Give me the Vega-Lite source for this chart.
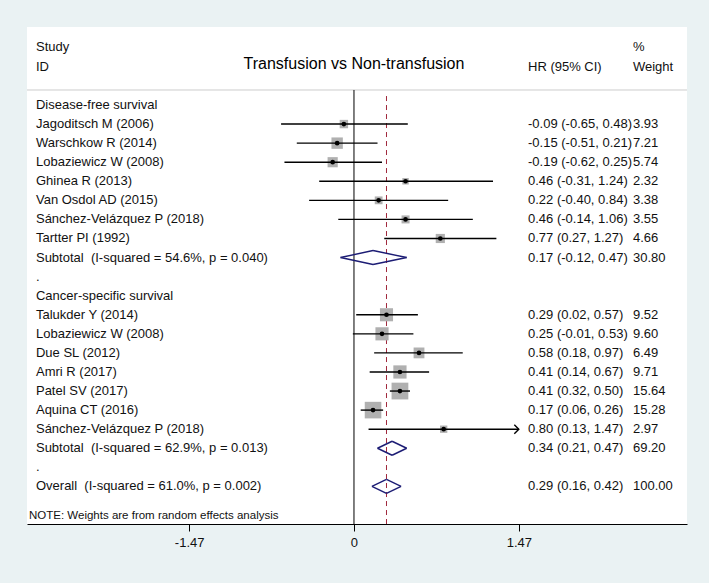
{
  "$schema": "https://vega.github.io/schema/vega-lite/v6.json",
  "width": 660,
  "height": 497,
  "autosize": {"type": "none"},
  "padding": {"left": 27, "top": 27, "right": 22, "bottom": 59},
  "background": "#eaf2f3",
  "config": {
    "view": {"fill": "#ffffff", "stroke": null},
    "text": {"font": "Liberation Sans", "fontSize": 13, "color": "#111111", "baseline": "middle", "align": "left"},
    "axisX": {"grid": false, "domainColor": "#000000", "domainWidth": 1, "tickColor": "#000000", "tickSize": 7, "tickWidth": 1, "labelFont": "Liberation Sans", "labelFontSize": 13, "labelColor": "#111111", "labelPadding": 5, "labelFlush": false, "labelOverlap": false}
  },
  "datasets": {
    "rows": [
      {"row": 0, "type": "group", "label": "Disease-free survival"},
      {"row": 1, "type": "study", "label": "Jagoditsch M (2006)", "est": -0.09, "lower": -0.65, "upper": 0.48, "weight": 3.93, "hr": "-0.09 (-0.65, 0.48)"},
      {"row": 2, "type": "study", "label": "Warschkow R (2014)", "est": -0.15, "lower": -0.51, "upper": 0.21, "weight": 7.21, "hr": "-0.15 (-0.51, 0.21)"},
      {"row": 3, "type": "study", "label": "Lobaziewicz W (2008)", "est": -0.19, "lower": -0.62, "upper": 0.25, "weight": 5.74, "hr": "-0.19 (-0.62, 0.25)"},
      {"row": 4, "type": "study", "label": "Ghinea R (2013)", "est": 0.46, "lower": -0.31, "upper": 1.24, "weight": 2.32, "hr": "0.46 (-0.31, 1.24)"},
      {"row": 5, "type": "study", "label": "Van Osdol AD (2015)", "est": 0.22, "lower": -0.40, "upper": 0.84, "weight": 3.38, "hr": "0.22 (-0.40, 0.84)"},
      {"row": 6, "type": "study", "label": "Sánchez-Velázquez P (2018)", "est": 0.46, "lower": -0.14, "upper": 1.06, "weight": 3.55, "hr": "0.46 (-0.14, 1.06)"},
      {"row": 7, "type": "study", "label": "Tartter PI (1992)", "est": 0.77, "lower": 0.27, "upper": 1.27, "weight": 4.66, "hr": "0.77 (0.27, 1.27)"},
      {"row": 8, "type": "subtotal", "label": "Subtotal\u00a0 (I-squared = 54.6%, p = 0.040)", "est": 0.17, "lower": -0.12, "upper": 0.47, "weight": 30.80, "hr": "0.17 (-0.12, 0.47)"},
      {"row": 9, "type": "blank", "label": "."},
      {"row": 10, "type": "group", "label": "Cancer-specific survival"},
      {"row": 11, "type": "study", "label": "Talukder Y (2014)", "est": 0.29, "lower": 0.02, "upper": 0.57, "weight": 9.52, "hr": "0.29 (0.02, 0.57)"},
      {"row": 12, "type": "study", "label": "Lobaziewicz W (2008)", "est": 0.25, "lower": -0.01, "upper": 0.53, "weight": 9.60, "hr": "0.25 (-0.01, 0.53)"},
      {"row": 13, "type": "study", "label": "Due SL (2012)", "est": 0.58, "lower": 0.18, "upper": 0.97, "weight": 6.49, "hr": "0.58 (0.18, 0.97)"},
      {"row": 14, "type": "study", "label": "Amri R (2017)", "est": 0.41, "lower": 0.14, "upper": 0.67, "weight": 9.71, "hr": "0.41 (0.14, 0.67)"},
      {"row": 15, "type": "study", "label": "Patel SV (2017)", "est": 0.41, "lower": 0.32, "upper": 0.50, "weight": 15.64, "hr": "0.41 (0.32, 0.50)"},
      {"row": 16, "type": "study", "label": "Aquina CT (2016)", "est": 0.17, "lower": 0.06, "upper": 0.26, "weight": 15.28, "hr": "0.17 (0.06, 0.26)"},
      {"row": 17, "type": "study", "label": "Sánchez-Velázquez P (2018)", "est": 0.80, "lower": 0.13, "upper": 1.47, "weight": 2.97, "hr": "0.80 (0.13, 1.47)"},
      {"row": 18, "type": "subtotal", "label": "Subtotal\u00a0 (I-squared = 62.9%, p = 0.013)", "est": 0.34, "lower": 0.21, "upper": 0.47, "weight": 69.20, "hr": "0.34 (0.21, 0.47)"},
      {"row": 19, "type": "blank", "label": "."},
      {"row": 20, "type": "overall", "label": "Overall\u00a0 (I-squared = 61.0%, p = 0.002)", "est": 0.29, "lower": 0.16, "upper": 0.42, "weight": 100.00, "hr": "0.29 (0.16, 0.42)"}
    ]
  },
  "layer": [
    {
      "data": {"values": [{}]},
      "mark": {"type": "rule", "color": "#cccccc", "strokeWidth": 1},
      "encoding": {
        "y": {"datum": -0.787, "type": "quantitative", "scale": {"domain": [-4.09, 21.972], "reverse": true, "nice": false, "zero": false}, "axis": null}
      }
    },
    {
      "data": {"values": [{}]},
      "mark": {"type": "rule", "color": "#000000", "strokeWidth": 1},
      "encoding": {
        "x": {"datum": 0, "type": "quantitative", "scale": {"domain": [-2.916, 2.97], "nice": false, "zero": false}, "axis": {"values": [-1.47, 0, 1.47], "labelExpr": "'' + datum.value", "title": null}},
        "y": {"datum": -0.787, "type": "quantitative", "scale": {"domain": [-4.09, 21.972], "reverse": true, "nice": false, "zero": false}, "axis": null},
        "y2": {"datum": 21.972}
      }
    },
    {
      "data": {"name": "rows"},
      "transform": [{"filter": "datum.type == 'overall'"}],
      "mark": {"type": "rule", "color": "#a0283c", "strokeWidth": 1, "strokeDash": [5, 4]},
      "encoding": {
        "x": {"field": "est", "type": "quantitative", "scale": {"domain": [-2.916, 2.97], "nice": false, "zero": false}, "axis": {"values": [-1.47, 0, 1.47], "labelExpr": "'' + datum.value", "title": null}},
        "y": {"datum": -0.47, "type": "quantitative", "scale": {"domain": [-4.09, 21.972], "reverse": true, "nice": false, "zero": false}, "axis": null},
        "y2": {"datum": 21.972}
      }
    },
    {
      "data": {"name": "rows"},
      "transform": [{"filter": "datum.type == 'study'"}],
      "mark": {"type": "point", "shape": "square", "filled": true, "color": "#b0b0b0", "opacity": 1},
      "encoding": {
        "x": {"field": "est", "type": "quantitative", "scale": {"domain": [-2.916, 2.97], "nice": false, "zero": false}, "axis": {"values": [-1.47, 0, 1.47], "labelExpr": "'' + datum.value", "title": null}},
        "y": {"field": "row", "type": "quantitative", "scale": {"domain": [-4.09, 21.972], "reverse": true, "nice": false, "zero": false}, "axis": null},
        "size": {"field": "weight", "type": "quantitative", "scale": {"type": "linear", "domain": [0, 20], "range": [0, 360]}, "legend": null}
      }
    },
    {
      "data": {"name": "rows"},
      "transform": [{"filter": "datum.type == 'study'"}],
      "mark": {"type": "rule", "color": "#000000", "strokeWidth": 1.4},
      "encoding": {
        "x": {"field": "lower", "type": "quantitative", "scale": {"domain": [-2.916, 2.97], "nice": false, "zero": false}, "axis": {"values": [-1.47, 0, 1.47], "labelExpr": "'' + datum.value", "title": null}},
        "x2": {"field": "upper"},
        "y": {"field": "row", "type": "quantitative", "scale": {"domain": [-4.09, 21.972], "reverse": true, "nice": false, "zero": false}, "axis": null}
      }
    },
    {
      "data": {"name": "rows"},
      "transform": [{"filter": "datum.type == 'study' && datum.upper >= 1.47"}],
      "mark": {"type": "point", "shape": "M-1,-1L0,0L-1,1", "filled": false, "stroke": "#000000", "strokeWidth": 1.4, "size": 81, "opacity": 1},
      "encoding": {
        "x": {"field": "upper", "type": "quantitative", "scale": {"domain": [-2.916, 2.97], "nice": false, "zero": false}, "axis": {"values": [-1.47, 0, 1.47], "labelExpr": "'' + datum.value", "title": null}},
        "y": {"field": "row", "type": "quantitative", "scale": {"domain": [-4.09, 21.972], "reverse": true, "nice": false, "zero": false}, "axis": null}
      }
    },
    {
      "data": {"name": "rows"},
      "transform": [{"filter": "datum.type == 'study'"}],
      "mark": {"type": "point", "shape": "circle", "filled": true, "color": "#000000", "size": 22, "opacity": 1},
      "encoding": {
        "x": {"field": "est", "type": "quantitative", "scale": {"domain": [-2.916, 2.97], "nice": false, "zero": false}, "axis": {"values": [-1.47, 0, 1.47], "labelExpr": "'' + datum.value", "title": null}},
        "y": {"field": "row", "type": "quantitative", "scale": {"domain": [-4.09, 21.972], "reverse": true, "nice": false, "zero": false}, "axis": null}
      }
    },
    {
      "data": {"name": "rows"},
      "transform": [{"filter": "datum.type == 'subtotal' || datum.type == 'overall'"}],
      "mark": {"type": "rule", "color": "#1c1c74", "strokeWidth": 1.4, "y2Offset": -7},
      "encoding": {
        "x": {"field": "lower", "type": "quantitative", "scale": {"domain": [-2.916, 2.97], "nice": false, "zero": false}, "axis": {"values": [-1.47, 0, 1.47], "labelExpr": "'' + datum.value", "title": null}},
        "x2": {"field": "est"},
        "y": {"field": "row", "type": "quantitative", "scale": {"domain": [-4.09, 21.972], "reverse": true, "nice": false, "zero": false}, "axis": null},
        "y2": {"field": "row"}
      }
    },
    {
      "data": {"name": "rows"},
      "transform": [{"filter": "datum.type == 'subtotal' || datum.type == 'overall'"}],
      "mark": {"type": "rule", "color": "#1c1c74", "strokeWidth": 1.4, "y2Offset": 7},
      "encoding": {
        "x": {"field": "lower", "type": "quantitative", "scale": {"domain": [-2.916, 2.97], "nice": false, "zero": false}, "axis": {"values": [-1.47, 0, 1.47], "labelExpr": "'' + datum.value", "title": null}},
        "x2": {"field": "est"},
        "y": {"field": "row", "type": "quantitative", "scale": {"domain": [-4.09, 21.972], "reverse": true, "nice": false, "zero": false}, "axis": null},
        "y2": {"field": "row"}
      }
    },
    {
      "data": {"name": "rows"},
      "transform": [{"filter": "datum.type == 'subtotal' || datum.type == 'overall'"}],
      "mark": {"type": "rule", "color": "#1c1c74", "strokeWidth": 1.4, "yOffset": -7},
      "encoding": {
        "x": {"field": "est", "type": "quantitative", "scale": {"domain": [-2.916, 2.97], "nice": false, "zero": false}, "axis": {"values": [-1.47, 0, 1.47], "labelExpr": "'' + datum.value", "title": null}},
        "x2": {"field": "upper"},
        "y": {"field": "row", "type": "quantitative", "scale": {"domain": [-4.09, 21.972], "reverse": true, "nice": false, "zero": false}, "axis": null},
        "y2": {"field": "row"}
      }
    },
    {
      "data": {"name": "rows"},
      "transform": [{"filter": "datum.type == 'subtotal' || datum.type == 'overall'"}],
      "mark": {"type": "rule", "color": "#1c1c74", "strokeWidth": 1.4, "yOffset": 7},
      "encoding": {
        "x": {"field": "est", "type": "quantitative", "scale": {"domain": [-2.916, 2.97], "nice": false, "zero": false}, "axis": {"values": [-1.47, 0, 1.47], "labelExpr": "'' + datum.value", "title": null}},
        "x2": {"field": "upper"},
        "y": {"field": "row", "type": "quantitative", "scale": {"domain": [-4.09, 21.972], "reverse": true, "nice": false, "zero": false}, "axis": null},
        "y2": {"field": "row"}
      }
    },
    {
      "data": {"name": "rows"},
      "mark": {"type": "text"},
      "encoding": {
        "x": {"datum": -2.836, "type": "quantitative", "scale": {"domain": [-2.916, 2.97], "nice": false, "zero": false}, "axis": {"values": [-1.47, 0, 1.47], "labelExpr": "'' + datum.value", "title": null}},
        "y": {"field": "row", "type": "quantitative", "scale": {"domain": [-4.09, 21.972], "reverse": true, "nice": false, "zero": false}, "axis": null},
        "text": {"field": "label"}
      }
    },
    {
      "data": {"name": "rows"},
      "transform": [{"filter": "isValid(datum.hr)"}],
      "mark": {"type": "text"},
      "encoding": {
        "x": {"datum": 1.552, "type": "quantitative", "scale": {"domain": [-2.916, 2.97], "nice": false, "zero": false}, "axis": {"values": [-1.47, 0, 1.47], "labelExpr": "'' + datum.value", "title": null}},
        "y": {"field": "row", "type": "quantitative", "scale": {"domain": [-4.09, 21.972], "reverse": true, "nice": false, "zero": false}, "axis": null},
        "text": {"field": "hr"}
      }
    },
    {
      "data": {"name": "rows"},
      "transform": [{"filter": "isValid(datum.weight)"}],
      "mark": {"type": "text"},
      "encoding": {
        "x": {"datum": 2.488, "type": "quantitative", "scale": {"domain": [-2.916, 2.97], "nice": false, "zero": false}, "axis": {"values": [-1.47, 0, 1.47], "labelExpr": "'' + datum.value", "title": null}},
        "y": {"field": "row", "type": "quantitative", "scale": {"domain": [-4.09, 21.972], "reverse": true, "nice": false, "zero": false}, "axis": null},
        "text": {"field": "weight", "type": "quantitative", "format": ".2f"}
      }
    },
    {
      "data": {"values": [{}]},
      "mark": {"type": "text", "text": "Study"},
      "encoding": {
        "x": {"datum": -2.836, "type": "quantitative", "scale": {"domain": [-2.916, 2.97], "nice": false, "zero": false}, "axis": {"values": [-1.47, 0, 1.47], "labelExpr": "'' + datum.value", "title": null}},
        "y": {"datum": -3.06, "type": "quantitative", "scale": {"domain": [-4.09, 21.972], "reverse": true, "nice": false, "zero": false}, "axis": null}
      }
    },
    {
      "data": {"values": [{}]},
      "mark": {"type": "text", "text": "ID"},
      "encoding": {
        "x": {"datum": -2.836, "type": "quantitative", "scale": {"domain": [-2.916, 2.97], "nice": false, "zero": false}, "axis": {"values": [-1.47, 0, 1.47], "labelExpr": "'' + datum.value", "title": null}},
        "y": {"datum": -2.01, "type": "quantitative", "scale": {"domain": [-4.09, 21.972], "reverse": true, "nice": false, "zero": false}, "axis": null}
      }
    },
    {
      "data": {"values": [{}]},
      "mark": {"type": "text", "text": "Transfusion vs Non-transfusion", "align": "center", "fontSize": 16, "color": "#000000"},
      "encoding": {
        "x": {"datum": 0, "type": "quantitative", "scale": {"domain": [-2.916, 2.97], "nice": false, "zero": false}, "axis": {"values": [-1.47, 0, 1.47], "labelExpr": "'' + datum.value", "title": null}},
        "y": {"datum": -2.15, "type": "quantitative", "scale": {"domain": [-4.09, 21.972], "reverse": true, "nice": false, "zero": false}, "axis": null}
      }
    },
    {
      "data": {"values": [{}]},
      "mark": {"type": "text", "text": "HR (95% CI)"},
      "encoding": {
        "x": {"datum": 1.552, "type": "quantitative", "scale": {"domain": [-2.916, 2.97], "nice": false, "zero": false}, "axis": {"values": [-1.47, 0, 1.47], "labelExpr": "'' + datum.value", "title": null}},
        "y": {"datum": -2.01, "type": "quantitative", "scale": {"domain": [-4.09, 21.972], "reverse": true, "nice": false, "zero": false}, "axis": null}
      }
    },
    {
      "data": {"values": [{}]},
      "mark": {"type": "text", "text": "%"},
      "encoding": {
        "x": {"datum": 2.488, "type": "quantitative", "scale": {"domain": [-2.916, 2.97], "nice": false, "zero": false}, "axis": {"values": [-1.47, 0, 1.47], "labelExpr": "'' + datum.value", "title": null}},
        "y": {"datum": -3.06, "type": "quantitative", "scale": {"domain": [-4.09, 21.972], "reverse": true, "nice": false, "zero": false}, "axis": null}
      }
    },
    {
      "data": {"values": [{}]},
      "mark": {"type": "text", "text": "Weight"},
      "encoding": {
        "x": {"datum": 2.488, "type": "quantitative", "scale": {"domain": [-2.916, 2.97], "nice": false, "zero": false}, "axis": {"values": [-1.47, 0, 1.47], "labelExpr": "'' + datum.value", "title": null}},
        "y": {"datum": -2.01, "type": "quantitative", "scale": {"domain": [-4.09, 21.972], "reverse": true, "nice": false, "zero": false}, "axis": null}
      }
    },
    {
      "data": {"values": [{}]},
      "mark": {"type": "text", "text": "NOTE: Weights are from random effects analysis", "fontSize": 11.5},
      "encoding": {
        "x": {"datum": -2.898, "type": "quantitative", "scale": {"domain": [-2.916, 2.97], "nice": false, "zero": false}, "axis": {"values": [-1.47, 0, 1.47], "labelExpr": "'' + datum.value", "title": null}},
        "y": {"datum": 21.54, "type": "quantitative", "scale": {"domain": [-4.09, 21.972], "reverse": true, "nice": false, "zero": false}, "axis": null}
      }
    }
  ]
}
